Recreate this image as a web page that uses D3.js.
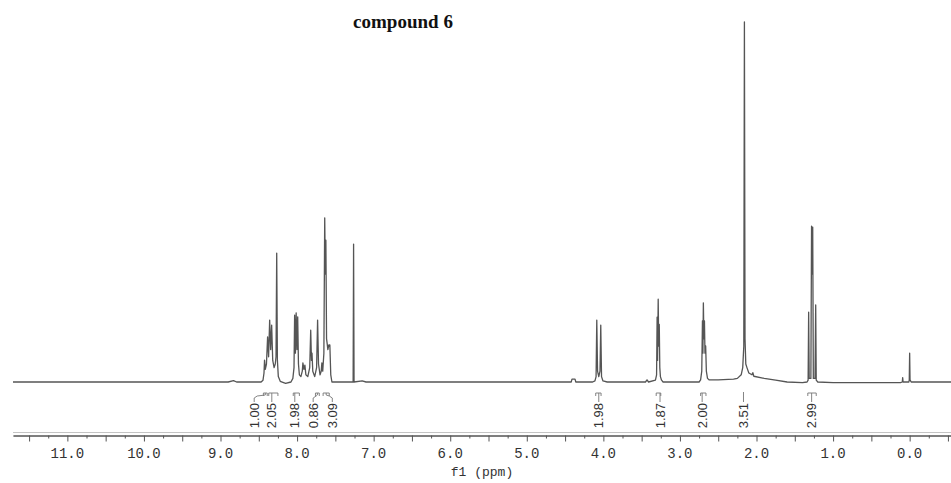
<!DOCTYPE html>
<html>
<head>
<meta charset="utf-8">
<script src="https://cdn.jsdelivr.net/npm/d3@7"></script>
<style>
  html, body { margin: 0; padding: 0; background: #fff; }
  svg { display: block; }
</style>
</head>
<body>
<svg id="chart" width="951" height="483"></svg>
<script>
// 1H NMR trace of compound 6.
// Each point is [ppm, intensity]; intensity 0 = baseline, 100 = tallest line (2.16 ppm).
const title = "compound 6";

const leftBaseline = [[11.71, 0], [8.90, 0], [8.83, 0.4], [8.79, 0], [8.47, 0]];
const aromatic = [
  [8.445, 0.5], [8.432, 2.5], [8.425, 6.1], [8.415, 3.5], [8.400, 5], [8.385, 12.5],
  [8.372, 7], [8.358, 17.2], [8.345, 9], [8.332, 15.8], [8.318, 6], [8.300, 4],
  [8.285, 5], [8.275, 7], [8.266, 35.8], [8.257, 6], [8.245, 1.5], [8.220, 0.2],
  [8.150, -0.4], [8.080, 0],
  [8.055, 1], [8.040, 4], [8.032, 18.6], [8.022, 8], [8.012, 19.2], [8.002, 9],
  [7.992, 18.1], [7.982, 5], [7.970, 2], [7.950, 1.5], [7.932, 3], [7.924, 5.3],
  [7.910, 3.5], [7.898, 4.7], [7.885, 2], [7.860, 1.5], [7.835, 4], [7.822, 14.4],
  [7.812, 6], [7.805, 8], [7.795, 3], [7.770, 1.5], [7.745, 4], [7.732, 17.2],
  [7.720, 5], [7.700, 2], [7.685, 3], [7.676, 5.3], [7.665, 3], [7.650, 8],
  [7.639, 45.6], [7.631, 30], [7.624, 39.4], [7.615, 12], [7.605, 10.3], [7.598, 9],
  [7.585, 10.3], [7.572, 10.3], [7.560, 2], [7.545, 0]
];
const solvent = [[7.300, 0], [7.268, 0], [7.262, 38.3], [7.256, 0], [7.150, 0.3], [7.100, 0]];
const ester = [
  [4.500, 0], [4.420, 0], [4.410, 0.8], [4.370, 0.8], [4.360, 0], [4.140, 0],
  [4.110, 0.3], [4.095, 1.5], [4.086, 17.2], [4.076, 3], [4.060, 1.5], [4.044, 3],
  [4.034, 15.8], [4.024, 1.5], [4.005, 0.3], [3.950, 0]
];
const methyleneA = [
  [3.450, 0], [3.430, 0.6], [3.410, 0], [3.320, 0.5], [3.305, 2], [3.298, 18],
  [3.292, 6], [3.284, 23], [3.277, 10], [3.270, 16], [3.263, 4], [3.255, 1.5],
  [3.240, 0.5], [3.220, 0]
];
const methyleneB = [
  [2.750, 0], [2.730, 0.6], [2.715, 3], [2.706, 17], [2.700, 8], [2.694, 22],
  [2.687, 12], [2.680, 17], [2.673, 8], [2.664, 10], [2.655, 3], [2.640, 1],
  [2.620, 0.6], [2.500, 0.6], [2.300, 0.8]
];
const acetyl = [
  [2.250, 1], [2.200, 2], [2.180, 4], [2.166, 10], [2.158, 100], [2.150, 12],
  [2.140, 5], [2.125, 4], [2.100, 2.5], [2.060, 2], [2.048, 2.6], [2.035, 1.6],
  [1.900, 1], [1.750, 0.5], [1.600, 0], [1.400, -0.2]
];
const triplet = [
  [1.340, 0], [1.326, 0.5], [1.319, 19.4], [1.312, 1], [1.290, 1], [1.281, 43.3],
  [1.274, 30], [1.266, 43], [1.258, 1], [1.236, 1], [1.227, 21.4], [1.220, 0.5],
  [1.200, 0], [1.000, -0.2]
];
const tms = [
  [0.120, -0.2], [0.096, 0], [0.091, 1.2], [0.086, 0], [0.010, 0], [0.005, 0.6],
  [0.000, 8], [-0.005, 0.6], [-0.020, 0], [-0.54, 0]
];

// integrals: printed value, range (ppm) and where the label sits (ppm)
const intValues = ["1.00", "2.05", "1.98", "0.86", "3.09", "1.98", "1.87", "2.00", "3.51", "2.99"];
const intFrom = [8.44, 8.37, 8.05, 7.76, 7.66, 4.10, 3.31, 2.73, 2.16, 1.33];
const intTo = [8.39, 8.25, 7.97, 7.71, 7.58, 4.03, 3.25, 2.66, 2.16, 1.22];
const intLabelAt = [8.56, 8.33, 8.03, 7.79, 7.54, 4.06, 3.26, 2.71, 2.17, 1.28];

// axis
const labelPpm = [11, 10, 9, 8, 7, 6, 5, 4, 3, 2, 1, 0];
const tickLabels = ["11.0", "10.0", "9.0", "8.0", "7.0", "6.0", "5.0", "4.0", "3.0", "2.0", "1.0", "0.0"];
const majorTicks = [11.5, 11, 10.5, 10, 9.5, 9, 8.5, 8, 7.5, 7, 6.5, 6, 5.5, 5, 4.5, 4,
  3.5, 3, 2.5, 2, 1.5, 1, 0.5, 0, -0.5];
const minorTicks = [11.25, 10.75, 10.25, 9.75, 9.25, 8.75, 8.25, 7.75, 7.25, 6.75, 6.25,
  5.75, 5.25, 4.75, 4.25, 3.75, 3.25, 2.75, 2.25, 1.75, 1.25, 0.75, 0.25, -0.25];

const spectrum = [].concat(leftBaseline, aromatic, solvent, ester, methyleneA,
  methyleneB, acetyl, triplet, tms);

const svg = d3.select("#chart");
const W = 951;

// reversed ppm axis, as usual for NMR
const x = d3.scaleLinear().domain([11.71, -0.54]).range([13, W]);
const y = d3.scaleLinear().domain([0, 100]).range([382, 22]);

// Title
svg.append("text")
  .attr("x", 403).attr("y", 28)
  .attr("text-anchor", "middle")
  .attr("font-family", "'Liberation Serif', 'Times New Roman', serif")
  .attr("font-weight", "bold")
  .attr("font-size", 19)
  .attr("fill", "#111")
  .text(title);

// Spectrum trace
const line = d3.line().x(d => x(d[0])).y(d => y(d[1]));
svg.append("path")
  .datum(spectrum)
  .attr("d", line)
  .attr("fill", "none")
  .attr("stroke", "#555")
  .attr("stroke-width", 1.3)
  .attr("stroke-linejoin", "round");

// Integral brackets + rotated values
const ig = svg.append("g").attr("class", "integrals");
intValues.forEach((v, i) => {
  const x1 = x(intFrom[i]), x2 = x(intTo[i]);
  const cx = (x1 + x2) / 2;
  const lx = x(intLabelAt[i]);
  const stroke = "#777";
  if (x2 - x1 > 1) {
    ig.append("path")
      .attr("d", `M${x1},396 L${x1},393 L${x2},393 L${x2},396`)
      .attr("fill", "none").attr("stroke", stroke).attr("stroke-width", 0.9);
  }
  const conn = Math.abs(lx - cx) < 2
    ? `M${lx},${x2 - x1 > 1 ? 393 : 392} L${lx},402`
    : `M${cx},393 L${cx},395 L${lx + (cx > lx ? 3 : -3)},396 L${lx},398 L${lx},402`;
  ig.append("path")
    .attr("d", conn)
    .attr("fill", "none").attr("stroke", stroke).attr("stroke-width", 0.9);
  ig.append("text")
    .attr("transform", `translate(${lx},403) rotate(-90)`)
    .attr("text-anchor", "end")
    .attr("dominant-baseline", "central")
    .attr("font-family", "'Liberation Sans', Arial, sans-serif")
    .attr("font-size", 13)
    .attr("fill", "#333")
    .text(v);
});

// Axis: light rule above, dark axis line with ticks
svg.append("line")
  .attr("x1", 13).attr("x2", W).attr("y1", 432.5).attr("y2", 432.5)
  .attr("stroke", "#c4c4c4").attr("stroke-width", 1);

const axisY = 435.5;
const majorAxis = d3.axisBottom(x).tickValues(majorTicks).tickSize(6).tickSizeOuter(0).tickFormat("");
const minorAxis = d3.axisBottom(x).tickValues(minorTicks).tickSize(3).tickSizeOuter(0).tickFormat("");

const gMinor = svg.append("g").attr("transform", `translate(0,${axisY})`).call(minorAxis);
const gMajor = svg.append("g").attr("transform", `translate(0,${axisY})`).call(majorAxis);
[gMinor, gMajor].forEach(g => {
  g.select(".domain").attr("stroke", "#555");
  g.selectAll(".tick line").attr("stroke", "#555");
});

svg.append("g")
  .selectAll("text")
  .data(labelPpm)
  .join("text")
  .attr("x", d => x(d))
  .attr("y", 458)
  .attr("text-anchor", "middle")
  .attr("font-family", "'Liberation Mono', 'DejaVu Sans Mono', monospace")
  .attr("font-size", 14)
  .attr("fill", "#333")
  .text((d, i) => tickLabels[i]);

svg.append("text")
  .attr("x", 482).attr("y", 476)
  .attr("text-anchor", "middle")
  .attr("font-family", "'Liberation Mono', 'DejaVu Sans Mono', monospace")
  .attr("font-size", 13)
  .attr("fill", "#333")
  .text("f1 (ppm)");
</script>
</body>
</html>
